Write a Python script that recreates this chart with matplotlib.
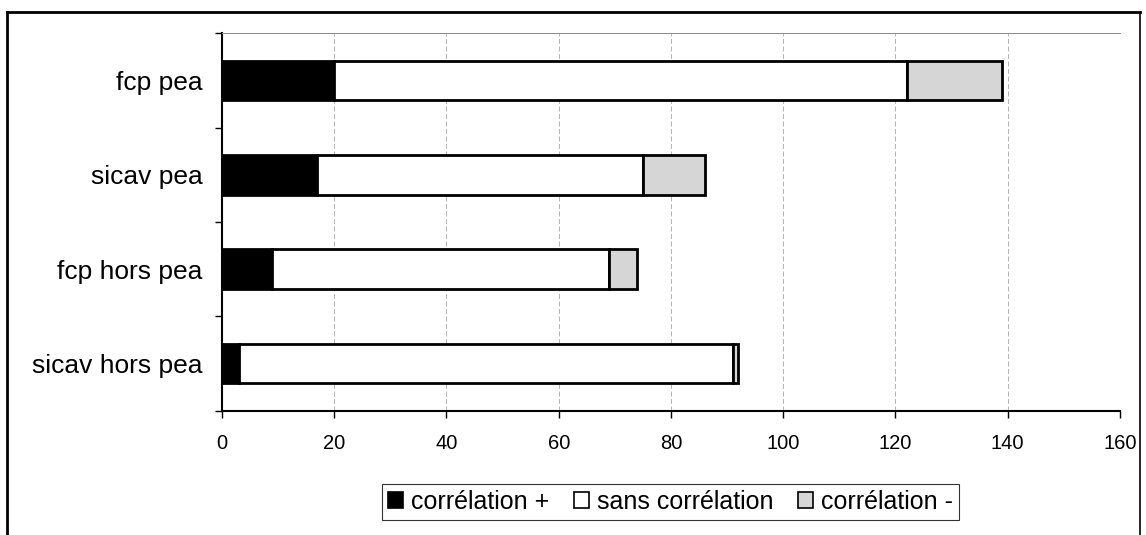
import matplotlib.pyplot as plt
import numpy as np
from matplotlib.lines import Line2D

plt.rcParams['font.family'] = ['Liberation Sans', 'DejaVu Sans']

# categories bottom to top
funds = ["sicav hors pea", "fcp hors pea", "sicav pea", "fcp pea"]

corr_pos = [3, 9, 17, 20]
no_corr = [88, 60, 58, 102]
corr_neg = [1, 5, 11, 17]

series = {
    "corrélation +": (corr_pos, "black"),
    "sans corrélation": (no_corr, "white"),
    "corrélation -": (corr_neg, "#d6d6d6"),
}

fig = plt.figure(figsize=(11.46, 5.35), dpi=100)
ax = fig.add_axes([0.1937, 0.232, 0.7835, 0.706])

y = np.arange(len(funds))
left = np.zeros(len(funds))
for name, (vals, col) in series.items():
    ax.barh(y, vals, 0.42, left=left, color=col, edgecolor="black",
            linewidth=2, label=name, zorder=3)
    left += np.array(vals)

ax.set_xlim(0, 160)
ax.set_ylim(-0.5, len(funds) - 0.5)
ax.set_xticks(np.arange(0, 161, 20))
ax.set_yticks(y)
ax.set_yticklabels(funds)
ax.set_yticks(np.arange(-0.5, len(funds), 1), minor=True)
ax.tick_params(axis="y", which="major", length=0, pad=14, labelsize=19)
ax.tick_params(axis="y", which="minor", length=5, width=1)
ax.tick_params(axis="x", length=5, width=1, pad=12, labelsize=14.5)

ax.grid(axis="x", color="#aaaaaa", linestyle=(0, (6, 3)), linewidth=0.6, zorder=0)
ax.spines["right"].set_visible(False)
ax.spines["top"].set_color("#888888")
ax.spines["top"].set_linewidth(0.7)
ax.spines["left"].set_linewidth(1.5)
ax.spines["bottom"].set_linewidth(1.5)

handles = [plt.Rectangle((0, 0), 1, 1, facecolor=c, edgecolor="black", linewidth=1.2)
           for _, (_, c) in series.items()]
leg = fig.legend(handles, list(series.keys()), loc="center",
                 bbox_to_anchor=(0.585, 0.062), ncol=3, fontsize=18,
                 frameon=True, fancybox=False, handlelength=0.6,
                 handleheight=0.6, handletextpad=0.3, columnspacing=1.0,
                 borderpad=0.25)
leg.get_frame().set_edgecolor("black")
leg.get_frame().set_linewidth(0.8)

# outer chart border
fig.add_artist(Line2D([0.006, 0.006], [0.0, 0.978], color="black", lw=2))
fig.add_artist(Line2D([0.006, 0.995], [0.978, 0.978], color="black", lw=2))
fig.add_artist(Line2D([0.995, 0.995], [0.0, 0.978], color="black", lw=1.2))

fig.savefig("out.png", dpi=100)
